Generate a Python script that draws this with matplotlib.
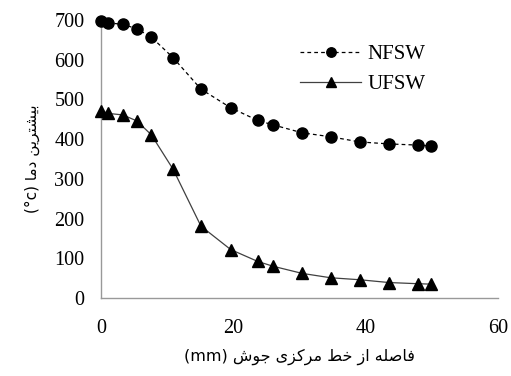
import matplotlib
matplotlib.use("Agg")
import matplotlib.pyplot as plt

# distance from weld centre line (mm)
x_nfsw = [0, 1, 3.3, 5.4, 7.6, 10.9, 15.1, 19.6, 23.7, 26, 30.4, 34.7, 39.1, 43.5, 47.9, 49.8]
t_nfsw = [698, 693, 689, 678, 657, 605, 526, 479, 447, 436, 416, 406, 393, 388, 385, 383]

x_ufsw = [0, 1, 3.3, 5.4, 7.6, 10.9, 15.1, 19.6, 23.7, 26, 30.4, 34.7, 39.1, 43.5, 47.9, 49.8]
t_ufsw = [472, 465, 461, 446, 411, 324, 181, 122, 92, 80, 62, 51, 46, 39, 36, 35]

xticks = [0, 20, 40, 60]
yticks = [0, 100, 200, 300, 400, 500, 600, 700]

xlabel_fa = "فاصله از خط مرکزی جوش (mm)"
ylabel_fa = "بیشترین دما (°c)"

# contextual forms: isolated, final, initial, medial (None = no left join)
FORMS = {
    "ا": (0xFE8D, 0xFE8E, None, None),
    "ب": (0xFE8F, 0xFE90, 0xFE91, 0xFE92),
    "ت": (0xFE95, 0xFE96, 0xFE97, 0xFE98),
    "ج": (0xFE9D, 0xFE9E, 0xFE9F, 0xFEA0),
    "خ": (0xFEA5, 0xFEA6, 0xFEA7, 0xFEA8),
    "د": (0xFEA9, 0xFEAA, None, None),
    "ر": (0xFEAD, 0xFEAE, None, None),
    "ز": (0xFEAF, 0xFEB0, None, None),
    "ش": (0xFEB5, 0xFEB6, 0xFEB7, 0xFEB8),
    "ص": (0xFEB9, 0xFEBA, 0xFEBB, 0xFEBC),
    "ط": (0xFEC1, 0xFEC2, 0xFEC3, 0xFEC4),
    "ف": (0xFED1, 0xFED2, 0xFED3, 0xFED4),
    "ل": (0xFEDD, 0xFEDE, 0xFEDF, 0xFEE0),
    "م": (0xFEE1, 0xFEE2, 0xFEE3, 0xFEE4),
    "ن": (0xFEE5, 0xFEE6, 0xFEE7, 0xFEE8),
    "ه": (0xFEE9, 0xFEEA, 0xFEEB, 0xFEEC),
    "و": (0xFEED, 0xFEEE, None, None),
    "ک": (0xFB8E, 0xFB8F, 0xFB90, 0xFB91),
    "ی": (0xFBFC, 0xFBFD, 0xFBFE, 0xFBFF),
}


def shape_word(w):
    out = []
    for i, ch in enumerate(w):
        if ch not in FORMS:
            out.append(ch)
            continue
        prev = w[i - 1] if i > 0 else None
        nxt = w[i + 1] if i < len(w) - 1 else None
        join_prev = prev in FORMS and FORMS[prev][2] is not None
        join_next = nxt in FORMS and FORMS[ch][2] is not None
        iso, fin, ini, med = FORMS[ch]
        if join_prev and join_next:
            c = med
        elif join_prev:
            c = fin
        elif join_next:
            c = ini
        else:
            c = iso
        out.append(chr(c))
    return "".join(out)


def rtl(text):
    words = []
    for w in text.split(" "):
        if any(ch in FORMS for ch in w):
            words.append(shape_word(w)[::-1])
        else:
            words.append(w)
    return " ".join(words[::-1])


plt.rcParams["font.family"] = ["Liberation Serif", "DejaVu Sans"]

fig = plt.figure(figsize=(5.11, 3.76), dpi=100)
ax = fig.add_axes([0.1977, 0.2074, 0.7769, 0.7394])

ax.plot(x_nfsw, t_nfsw, color="black", linestyle=(0, (3, 2.5)), linewidth=0.9,
        marker="o", markersize=8, label="NFSW", clip_on=False, zorder=3)
ax.plot(x_ufsw, t_ufsw, color="#404040", linestyle="-", linewidth=0.9,
        marker="^", markersize=8, markerfacecolor="black", markeredgecolor="black",
        label="UFSW", clip_on=False, zorder=3)

ax.set_xlim(0, 60)
ax.set_ylim(0, 700)
ax.set_xticks(xticks)
ax.set_yticks(yticks)
ax.tick_params(axis="both", length=0, labelsize=14.5)
ax.tick_params(axis="x", pad=15)
ax.tick_params(axis="y", pad=12)

for s in ["top", "right"]:
    ax.spines[s].set_visible(False)
for s in ["left", "bottom"]:
    ax.spines[s].set_color("#999999")
    ax.spines[s].set_linewidth(1.0)

ax.set_xlabel(rtl(xlabel_fa), fontsize=11.5, family=["DejaVu Sans"], labelpad=8)
ax.set_ylabel(rtl(ylabel_fa), fontsize=11, family=["DejaVu Sans"], labelpad=10)

ax.legend(loc="upper left", bbox_to_anchor=(0.455, 0.98), frameon=False,
          fontsize=15, handlelength=2.9, handletextpad=0.3, labelspacing=0.5,
          markerscale=0.85)

fig.savefig("out.png", dpi=100)
